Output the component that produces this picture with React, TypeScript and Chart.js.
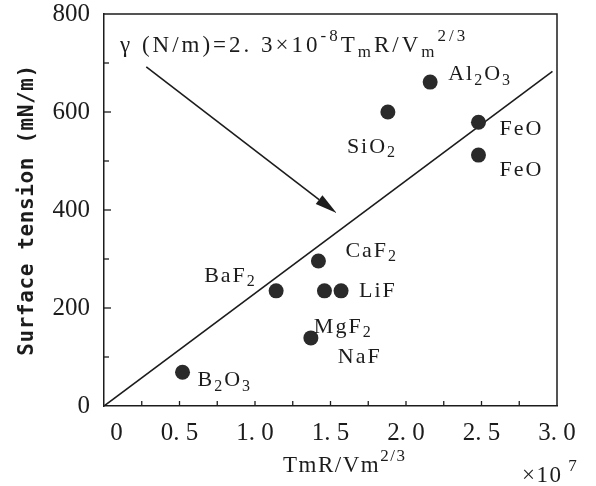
import React, { useEffect, useRef } from 'react';
import { Chart, registerables } from 'chart.js';

Chart.register(...registerables);

// ---- data ----
const pointNames = ['Al2O3', 'SiO2', 'FeO', 'FeO', 'CaF2', 'LiF', 'LiF', 'MgF2/NaF', 'BaF2', 'B2O3'];
const tmrVm = [2.16, 1.88, 2.48, 2.48, 1.42, 1.46, 1.57, 1.37, 1.14, 0.52];
const surfaceTension = [661, 600, 579, 512, 296, 235, 235, 139, 235, 69];

const fitLineX = [0, 2.97];
const fitLineY = [0, 683];

const arrowFromX = 0.28;
const arrowFromY = 692;
const arrowToX = 1.54;
const arrowToY = 394;

const labelTexts = ['Al2O3', 'SiO2', 'FeO', 'FeO', 'CaF2', 'LiF', 'MgF2', 'NaF', 'BaF2', 'B2O3'];
const labelPointIndex = [0, 1, 2, 3, 4, 6, 7, 7, 8, 9];

const xTickValues = [0, 0.5, 1, 1.5, 2, 2.5, 3];
const yTickValues = [0, 200, 400, 600, 800];

// ---- layout (pixel offsets of labels from their point, baseline) ----
const labelDx = [18, -41, 21, 21, 27, 18, 3, 27, -72, 15];
const labelDy = [-2, 41, 13, 21, -4, 6, -5, 25, -9, 14];

const SERIF = '"Liberation Serif", "DejaVu Serif", serif';
const INK = '#1c1c1c';

type Seg = { t: string; k: 'n' | 'sub' | 'sup' };

function drawRich(ctx: CanvasRenderingContext2D, segs: Seg[], x: number, y: number, size: number, family: string, spacing: number) {
  let cx = x;
  for (const s of segs) {
    const fs = s.k === 'n' ? size : Math.round(size * 0.72);
    const dy = s.k === 'sub' ? size * 0.2 : s.k === 'sup' ? -size * 0.48 : 0;
    ctx.font = `${fs}px ${family}`;
    (ctx as any).letterSpacing = `${spacing}px`;
    ctx.fillText(s.t, cx, y + dy);
    cx += ctx.measureText(s.t).width;
  }
  (ctx as any).letterSpacing = '0px';
}

function chemSegs(name: string): Seg[] {
  const out: Seg[] = [];
  for (const ch of name) {
    out.push({ t: ch, k: /[0-9]/.test(ch) ? 'sub' : 'n' });
  }
  return out;
}

const decorPlugin = {
  id: 'decor',
  afterDatasetsDraw(chart: any) {
    const { ctx, chartArea: a, scales } = chart;
    const xs = scales.x;
    const ys = scales.y;
    ctx.save();
    ctx.strokeStyle = INK;
    ctx.fillStyle = INK;

    // frame (top and right)
    ctx.lineWidth = 1.5;
    ctx.beginPath();
    ctx.moveTo(a.left, a.top);
    ctx.lineTo(a.right, a.top);
    ctx.lineTo(a.right, a.bottom);
    ctx.stroke();

    // inward ticks
    ctx.lineWidth = 1.3;
    for (let v = 0.25; v < 3; v += 0.25) {
      const px = xs.getPixelForValue(v);
      ctx.beginPath();
      ctx.moveTo(px, a.bottom);
      ctx.lineTo(px, a.bottom - 5);
      ctx.stroke();
    }
    for (let v = 100; v < 800; v += 100) {
      const py = ys.getPixelForValue(v);
      ctx.beginPath();
      ctx.moveTo(a.left, py);
      ctx.lineTo(a.left + (v % 200 === 0 ? 7 : 5), py);
      ctx.stroke();
    }

    // point labels
    ctx.textAlign = 'left';
    ctx.textBaseline = 'alphabetic';
    labelTexts.forEach((t, i) => {
      const pi = labelPointIndex[i];
      const px = xs.getPixelForValue(tmrVm[pi]) + labelDx[i];
      const py = ys.getPixelForValue(surfaceTension[pi]) + labelDy[i];
      drawRich(ctx, chemSegs(t), px, py, 22, SERIF, 2);
    });

    // formula
    const formula: Seg[] = [
      { t: 'γ (N/m)=2. 3×10', k: 'n' },
      { t: '-8', k: 'sup' },
      { t: 'T', k: 'n' },
      { t: 'm', k: 'sub' },
      { t: 'R/V', k: 'n' },
      { t: 'm', k: 'sub' },
      { t: '2/3', k: 'sup' },
    ];
    drawRich(ctx, formula, a.left + 16, a.top + 38, 23, SERIF, 3);

    // arrow
    const x1 = xs.getPixelForValue(arrowFromX);
    const y1 = ys.getPixelForValue(arrowFromY);
    const x2 = xs.getPixelForValue(arrowToX);
    const y2 = ys.getPixelForValue(arrowToY);
    const ang = Math.atan2(y2 - y1, x2 - x1);
    const headLen = 22;
    const headW = 5.5;
    const bx = x2 - headLen * Math.cos(ang);
    const by = y2 - headLen * Math.sin(ang);
    ctx.lineWidth = 1.6;
    ctx.beginPath();
    ctx.moveTo(x1, y1);
    ctx.lineTo(bx, by);
    ctx.stroke();
    ctx.beginPath();
    ctx.moveTo(x2, y2);
    ctx.lineTo(bx + headW * Math.sin(ang), by - headW * Math.cos(ang));
    ctx.lineTo(bx - headW * Math.sin(ang), by + headW * Math.cos(ang));
    ctx.closePath();
    ctx.fill();

    // y axis title
    ctx.save();
    ctx.translate(28, (a.top + a.bottom) / 2);
    ctx.rotate(-Math.PI / 2);
    ctx.textAlign = 'center';
    ctx.textBaseline = 'middle';
    ctx.font = 'bold 21px "DejaVu Sans Mono", monospace';
    (ctx as any).letterSpacing = '0.6px';
    ctx.fillText('Surface tension (mN/m)', 0, 0);
    (ctx as any).letterSpacing = '0px';
    ctx.restore();

    // x axis title
    ctx.textAlign = 'left';
    ctx.textBaseline = 'alphabetic';
    drawRich(ctx, [{ t: 'TmR/Vm', k: 'n' }, { t: '2/3', k: 'sup' }], 283, 472, 23, SERIF, 1.5);

    // multiplier
    drawRich(ctx, [{ t: '×10', k: 'n' }, { t: ' 7', k: 'sup' }], 522, 482, 23, SERIF, 1.5);

    ctx.restore();
  },
};

export default function App() {
  const ref = useRef<HTMLCanvasElement | null>(null);

  useEffect(() => {
    document.body.style.margin = '0';
    document.body.style.background = '#ffffff';
    const canvas = ref.current;
    if (!canvas) return;

    const chart = new Chart(canvas, {
      type: 'scatter',
      data: {
        datasets: [
          {
            label: 'Compounds',
            data: tmrVm.map((x, i) => ({ x, y: surfaceTension[i], name: pointNames[i] })) as any,
            backgroundColor: '#2a2a2a',
            borderColor: '#2a2a2a',
            pointRadius: 7.5,
            pointHoverRadius: 7.5,
            borderWidth: 0,
          },
          {
            label: 'Fit',
            type: 'line' as any,
            data: fitLineX.map((x, i) => ({ x, y: fitLineY[i] })),
            borderColor: INK,
            borderWidth: 1.6,
            pointRadius: 0,
            fill: false,
          },
        ],
      },
      options: {
        responsive: false,
        animation: false,
        events: [],
        layout: { padding: { left: 0, top: 14, right: 39, bottom: 0 } },
        plugins: {
          legend: { display: false },
          tooltip: { enabled: false },
        },
        scales: {
          x: {
            type: 'linear',
            min: 0,
            max: 3,
            afterFit: (s: any) => {
              s.height = 80;
              s.paddingLeft = 0;
              s.paddingRight = 0;
            },
            afterBuildTicks: (s: any) => {
              s.ticks = xTickValues.map((v) => ({ value: v }));
            },
            ticks: {
              color: INK,
              font: { family: SERIF, size: 25 },
              padding: 12,
              maxRotation: 0,
              autoSkip: false,
              callback: (v: any) => (Number(v) === 0 ? '    0' : Number(v).toFixed(1).replace('.', '. ')),
            },
            grid: { display: false, drawTicks: false },
            border: { display: true, color: INK, width: 1.5 },
          },
          y: {
            type: 'linear',
            min: 0,
            max: 800,
            afterFit: (s: any) => {
              s.width = 104;
              s.paddingTop = 0;
              s.paddingBottom = 0;
            },
            afterBuildTicks: (s: any) => {
              s.ticks = yTickValues.map((v) => ({ value: v }));
            },
            ticks: {
              color: INK,
              font: { family: SERIF, size: 25 },
              padding: 14,
              autoSkip: false,
              callback: (v: any) => String(v),
            },
            grid: { display: false, drawTicks: false },
            border: { display: true, color: INK, width: 1.5 },
          },
        },
      },
      plugins: [decorPlugin],
    });

    return () => chart.destroy();
  }, []);

  return (
    <div style={{ width: 596, height: 486, background: '#ffffff' }}>
      <canvas ref={ref} width={596} height={486} style={{ display: 'block' }} />
    </div>
  );
}
